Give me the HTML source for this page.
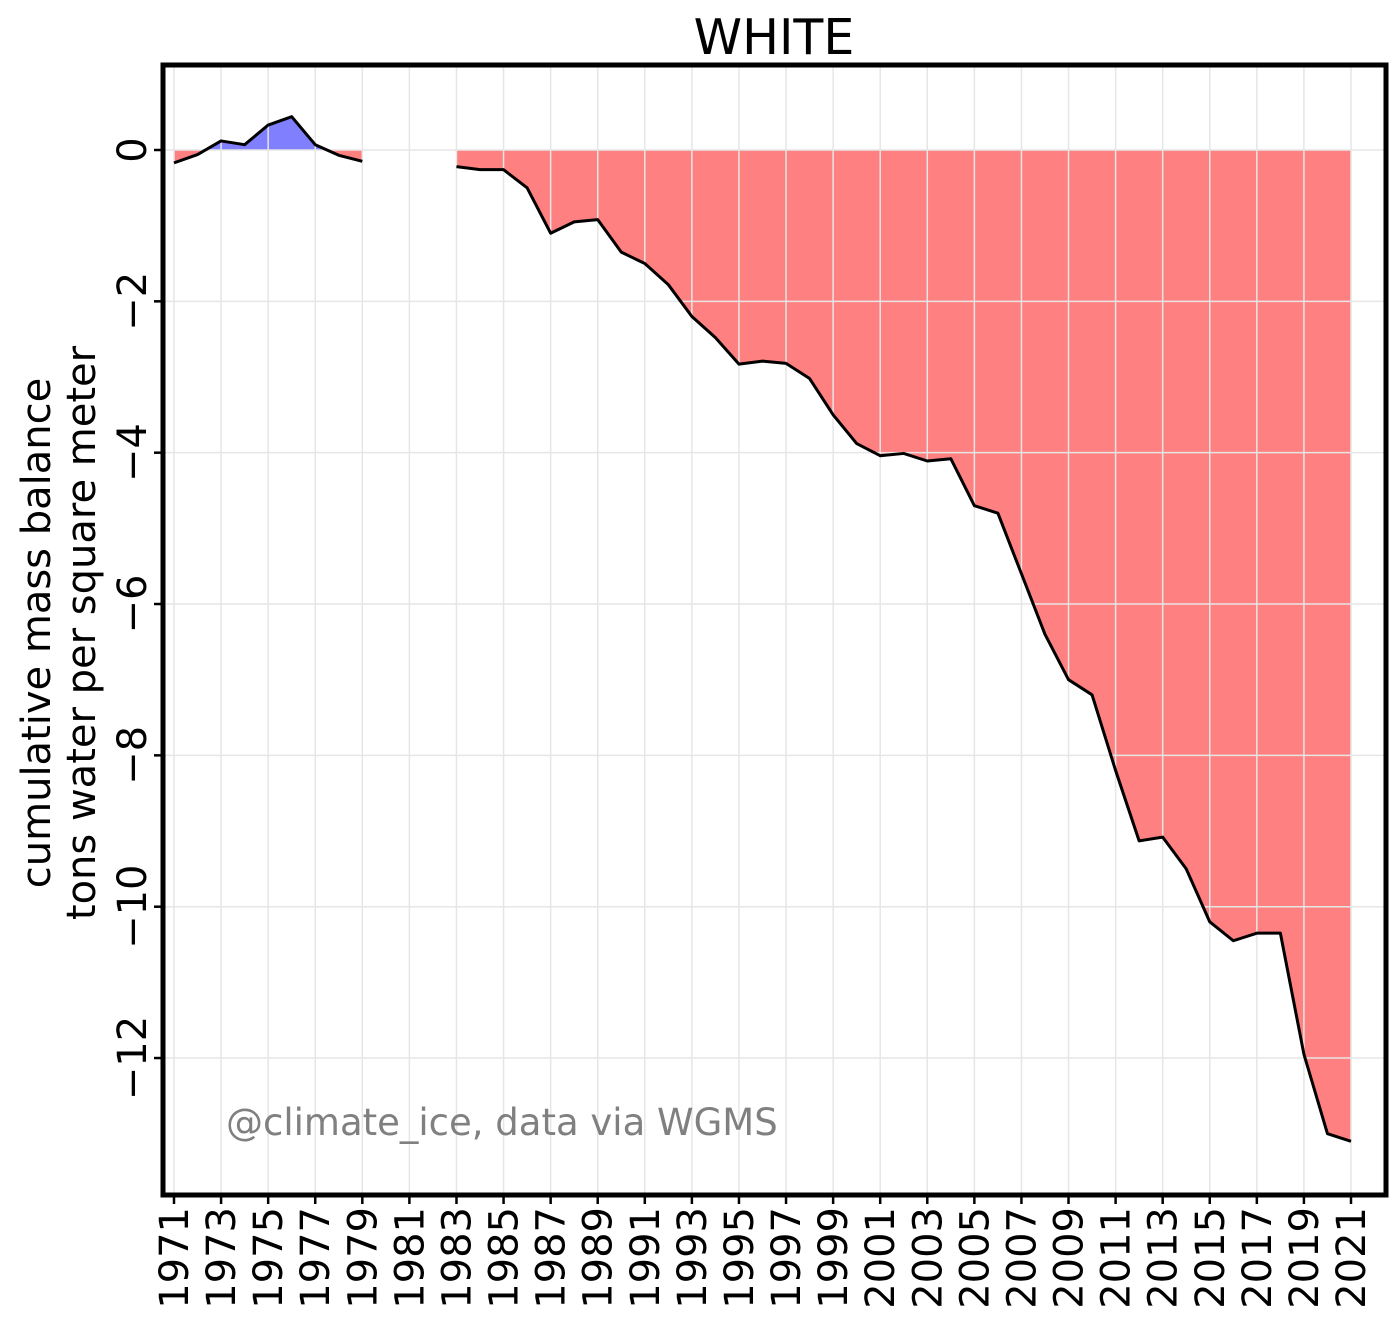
<!DOCTYPE html>
<html><head><meta charset="utf-8"><style>
body{margin:0;background:#fff;}
svg text{font-family:"DejaVu Sans","Liberation Sans",sans-serif;}
</style></head><body>
<svg id="chart" width="1399" height="1333" xmlns="http://www.w3.org/2000/svg">
<text x="774" y="54" font-size="49" text-anchor="middle">WHITE</text>
<g id="plot"></g>
<text transform="translate(60,633) rotate(-90)" font-size="40" text-anchor="middle"><tspan x="0" dy="-10">cumulative mass balance</tspan><tspan x="0" dy="45">tons water per square meter</tspan></text>
<text x="226" y="1135" font-size="37" fill="#808080">@climate_ice, data via WGMS</text>
</svg>
<script>
const years=[1971,1972,1973,1974,1975,1976,1977,1978,1979,1980,1981,1982,1983,1984,1985,1986,1987,1988,1989,1990,1991,1992,1993,1994,1995,1996,1997,1998,1999,2000,2001,2002,2003,2004,2005,2006,2007,2008,2009,2010,2011,2012,2013,2014,2015,2016,2017,2018,2019,2020,2021];
const values=[-0.17,-0.06,0.12,0.07,0.33,0.44,0.07,-0.07,-0.15,null,null,null,-0.22,-0.26,-0.26,-0.5,-1.1,-0.95,-0.92,-1.35,-1.5,-1.78,-2.2,-2.48,-2.83,-2.79,-2.82,-3.02,-3.5,-3.88,-4.04,-4.01,-4.11,-4.08,-4.7,-4.8,-5.6,-6.4,-7.0,-7.2,-8.2,-9.13,-9.08,-9.5,-10.2,-10.45,-10.35,-10.35,-11.95,-13.0,-13.1];
const yTicks=[0,-2,-4,-6,-8,-10,-12];
const yTickLabels=["0","\u22122","\u22124","\u22126","\u22128","\u221210","\u221212"];
const NS="http://www.w3.org/2000/svg";
const L=163,R=1386,T=65,B=1195;
const X=y=>174+(y-1971)*(1351-174)/50;
const Y=v=>150-v*75.67;
const g=document.getElementById('plot');
function mk(t,a){const e=document.createElementNS(NS,t);for(const k in a)e.setAttribute(k,a[k]);g.appendChild(e);return e;}
const defs=mk('defs',{});
defs.innerHTML='<clipPath id="above"><rect x="0" y="0" width="1399" height="'+Y(0)+'"/></clipPath><clipPath id="below"><rect x="0" y="'+Y(0)+'" width="1399" height="1333"/></clipPath>';
const segs=[];let cur=[];
years.forEach((yr,i)=>{if(values[i]===null){if(cur.length)segs.push(cur);cur=[];}else cur.push([X(yr),Y(values[i])]);});
if(cur.length)segs.push(cur);
segs.forEach((s,si)=>{
  const d='M'+s[0][0]+','+Y(0)+' '+s.map(p=>'L'+p[0]+','+p[1]).join(' ')+' L'+s[s.length-1][0]+','+Y(0)+'Z';
  const a=mk('path',{d:d,fill:'#8080ff','clip-path':'url(#above)'});
  
  
  const b=mk('path',{d:d,fill:'#ff8080','clip-path':'url(#below)'});
  
  
});
for(let yr=1971;yr<=2021;yr+=2){
  const l=mk('line',{x1:X(yr),x2:X(yr),y1:T,y2:B,stroke:'#e6e6e6','stroke-width':1.5});
  
  
}
yTicks.forEach((v,i)=>{
  const l=mk('line',{x1:L,x2:R,y1:Y(v),y2:Y(v),stroke:'#e6e6e6','stroke-width':1.5});
  
  
  const t=mk('line',{x1:L-9,x2:L,y1:Y(v),y2:Y(v),stroke:'#000','stroke-width':2.5});
  
  
  const tx=mk('text',{transform:'translate(146,'+Y(v)+') rotate(-90)','font-size':40,'text-anchor':'middle'});
  tx.textContent=yTickLabels[i];
  
  
});
for(let yr=1971;yr<=2021;yr+=2){
  const t=mk('line',{x1:X(yr),x2:X(yr),y1:B,y2:B+9,stroke:'#000','stroke-width':2.5});
  
  
  const tx=mk('text',{transform:'translate('+(X(yr)+14)+',1207) rotate(-90)','font-size':40,'text-anchor':'end'});
  tx.textContent=String(yr);
  
  
}
segs.forEach(s=>{
  const p=mk('polyline',{points:s.map(p=>p.join(',')).join(' '),fill:'none',stroke:'#000','stroke-width':3,'stroke-linejoin':'round'});
  
  
});
const fr=mk('rect',{x:L,y:T,width:R-L,height:B-T,fill:'none',stroke:'#000','stroke-width':5});


</script>
</body></html>
